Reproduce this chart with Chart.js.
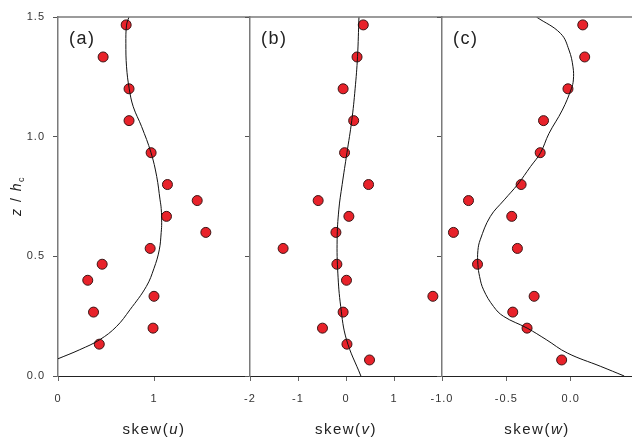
<!DOCTYPE html>
<html>
<head>
<meta charset="utf-8">
<script src="https://cdn.jsdelivr.net/npm/chart.js@4.4.1/dist/chart.umd.min.js"></script>
<style>
  html, body { margin: 0; padding: 0; background: #fff; }
  #wrap { position: relative; width: 632px; height: 439px; overflow: hidden; }
  #wrap canvas { position: absolute; left: 0; top: 0; }
</style>
</head>
<body>
<div id="wrap">
  <canvas id="chartU" width="632" height="439"></canvas>
  <canvas id="chartV" width="632" height="439"></canvas>
  <canvas id="chartW" width="660" height="439"></canvas>
</div>
<script>
// ---- data ----
const zA = [1.467, 1.333, 1.2, 1.067, 0.933, 0.8, 0.733, 0.667, 0.6, 0.533, 0.467, 0.4, 0.333, 0.267, 0.2, 0.133];
const skewU = [0.71, 0.47, 0.74, 0.74, 0.97, 1.14, 1.45, 1.13, 1.54, 0.96, 0.46, 0.31, 1.0, 0.37, 0.99, 0.43];

const zB = [1.467, 1.333, 1.2, 1.067, 0.933, 0.8, 0.733, 0.667, 0.6, 0.533, 0.467, 0.4, 0.333, 0.267, 0.2, 0.133, 0.067];
const skewV = [0.36, 0.23, -0.06, 0.16, -0.03, 0.47, -0.58, 0.06, -0.21, -1.31, -0.19, 0.01, 1.81, -0.06, -0.49, 0.02, 0.49];

const zC = [1.467, 1.333, 1.2, 1.067, 0.933, 0.8, 0.733, 0.667, 0.6, 0.533, 0.467, 0.333, 0.267, 0.2, 0.067];
const skewW = [0.094, 0.109, -0.021, -0.211, -0.237, -0.385, -0.794, -0.458, -0.911, -0.414, -0.724, -0.284, -0.45, -0.339, -0.07];

// fitted profiles
const fitZA = [0.072, 0.11, 0.152, 0.207, 0.277, 0.374, 0.45, 0.527, 0.6, 0.64, 0.7, 0.736, 0.834, 0.933, 1.042, 1.125, 1.2, 1.292, 1.39, 1.466, 1.5];
const fitU  = [0, 0.227, 0.436, 0.61, 0.75, 0.92, 1.0, 1.055, 1.075, 1.08, 1.075, 1.063, 1.028, 0.969, 0.871, 0.784, 0.742, 0.714, 0.707, 0.714, 0.739];

const fitZB = [0, 0.152, 0.29, 0.43, 0.569, 0.694, 0.8, 0.933, 1.067, 1.2, 1.334, 1.5];
const fitV  = [0.31, 0.01, -0.11, -0.17, -0.185, -0.15, -0.08, 0.02, 0.12, 0.19, 0.24, 0.27];

const fitZC = [0, 0.04, 0.096, 0.152, 0.2, 0.249, 0.29, 0.36, 0.416, 0.467, 0.524, 0.569, 0.666, 0.736, 0.801, 0.875, 0.933, 1.013, 1.111, 1.2, 1.237, 1.292, 1.362, 1.431, 1.5];
const fitW  = [0.416, 0.234, -0.026, -0.19, -0.338, -0.521, -0.599, -0.677, -0.708, -0.721, -0.721, -0.703, -0.625, -0.516, -0.411, -0.312, -0.234, -0.169, -0.065, 0.005, 0.021, 0.018, -0.013, -0.078, -0.266];

// ticks
const zTicks = [0, 0.5, 1.0, 1.5];
const uTicks = [0, 1, 2];
const vTicks = [-2, -1, 0, 1, 2];
const wTicks = [-1.0, -0.5, 0.0];

const FONT = '"Liberation Sans", Arial, sans-serif';

function toXY(xs, zs) {
  return xs.map((x, i) => ({ x: x, y: zs[i] }));
}

function drawRich(ctx, parts, x, y, size, align) {
  ctx.letterSpacing = '1.5px';
  let total = 0;
  const widths = parts.map(p => {
    ctx.font = (p.italic ? 'italic ' : '') + (p.size || size) + 'px ' + FONT;
    const w = ctx.measureText(p.t).width;
    total += w;
    return w;
  });
  let cx = align === 'left' ? x : x - total / 2;
  parts.forEach((p, i) => {
    ctx.font = (p.italic ? 'italic ' : '') + (p.size || size) + 'px ' + FONT;
    ctx.fillText(p.t, cx, y + (p.dy || 0));
    cx += widths[i];
  });
}

const panelDecor = {
  id: 'panelDecor',
  beforeDraw(chart) { chart.ctx.letterSpacing = '1px'; },
  afterDraw(chart, args, o) {
    const { ctx, chartArea } = chart;
    ctx.save();
    ctx.strokeStyle = '#7a7a7a';
    ctx.lineWidth = 1.5;
    ctx.beginPath();
    ctx.moveTo(chartArea.left, chartArea.top);
    ctx.lineTo(chartArea.right, chartArea.top);
    ctx.stroke();

    ctx.fillStyle = '#222';
    ctx.textBaseline = 'middle';
    ctx.textAlign = 'left';
    drawRich(ctx, [{ t: o.letter }], chartArea.left + 11, 39, 18, 'left');

    ctx.textBaseline = 'alphabetic';
    const mid = o.titleX || (chartArea.left + chartArea.right) / 2;
    drawRich(ctx, [{ t: 'skew(' }, { t: o.varName, italic: true }, { t: ')' }], mid, 434, 15);

    if (o.yTitle) {
      ctx.translate(21, 196);
      ctx.rotate(-Math.PI / 2);
      drawRich(ctx, [
        { t: 'z', italic: true },
        { t: ' / ' },
        { t: 'h', italic: true },
        { t: 'c', size: 9, dy: 3 }
      ], 0, 0, 14);
    }
    ctx.restore();
  }
};

function makePanel(id, cfg) {
  return new Chart(document.getElementById(id), {
    type: 'scatter',
    data: {
      datasets: [
        {
          data: toXY(cfg.fitX, cfg.fitZ),
          showLine: true,
          borderColor: '#111',
          borderWidth: 1,
          pointRadius: 0,
          tension: 0.4,
          fill: false
        },
        {
          data: toXY(cfg.x, cfg.z),
          pointRadius: 5,
          pointBackgroundColor: '#e8222a',
          pointBorderColor: '#3a1515',
          pointBorderWidth: 1
        }
      ]
    },
    options: {
      responsive: false,
      animation: false,
      devicePixelRatio: 1,
      layout: { padding: cfg.padding },
      plugins: {
        legend: { display: false },
        tooltip: { enabled: false },
        panelDecor: { letter: cfg.letter, varName: cfg.varName, yTitle: cfg.yTitle, titleX: cfg.titleX }
      },
      scales: {
        x: {
          type: 'linear',
          min: cfg.xMin,
          max: cfg.xMax,
          afterBuildTicks: s => { s.ticks = cfg.xTicks.map(v => ({ value: v })); },
          afterFit: s => { s.height = 63; s.paddingLeft = 0; s.paddingRight = 0; },
          grid: { drawOnChartArea: false, drawTicks: true, tickLength: 5, tickColor: '#666', tickWidth: 1 },
          border: { display: true, color: '#222', width: 1 },
          ticks: {
            padding: 11,
            color: '#333',
            font: { family: FONT, size: 11 },
            maxRotation: 0,
            autoSkip: false,
            callback: cfg.xLabel
          }
        },
        y: {
          type: 'linear',
          min: 0,
          max: 1.5,
          afterBuildTicks: s => { s.ticks = zTicks.map(v => ({ value: v })); },
          afterFit: s => { s.width = cfg.yWidth; s.paddingTop = 0; s.paddingBottom = 0; },
          grid: { drawOnChartArea: false, drawTicks: true, tickLength: 5, tickColor: '#555', tickWidth: 1 },
          border: { display: true, color: '#7a7a7a', width: 1.5 },
          ticks: {
            padding: 8,
            color: '#333',
            font: { family: FONT, size: 11 },
            autoSkip: false,
            callback: v => cfg.yTitle ? v.toFixed(1) : ''
          }
        }
      }
    },
    plugins: [panelDecor]
  });
}

makePanel('chartU', {
  letter: '(a)', varName: 'u', yTitle: true,
  x: skewU, z: zA, fitX: fitU, fitZ: fitZA,
  xMin: 0, xMax: 2, xTicks: uTicks,
  xLabel: v => (v === 2 ? '' : String(v)),
  yWidth: 58,
  padding: { left: 0, right: 382, top: 17, bottom: 0 }
});

makePanel('chartV', {
  letter: '(b)', varName: 'v', yTitle: false,
  x: skewV, z: zB, fitX: fitV, fitZ: fitZB,
  xMin: -2, xMax: 2, xTicks: vTicks,
  xLabel: v => (v === 2 ? '' : String(v)),
  yWidth: 20,
  padding: { left: 230, right: 190, top: 17, bottom: 0 }
});

// panel (c) is cut off at the right edge of the figure, so its canvas runs past the frame
makePanel('chartW', {
  letter: '(c)', varName: 'w', yTitle: false,
  x: skewW, z: zC, fitX: fitW, fitZ: fitZC,
  xMin: -1, xMax: 0.5, xTicks: wTicks,
  xLabel: v => v.toFixed(1),
  yWidth: 20,
  titleX: 537,
  padding: { left: 422, right: 25, top: 17, bottom: 0 }
});
</script>
</body>
</html>
